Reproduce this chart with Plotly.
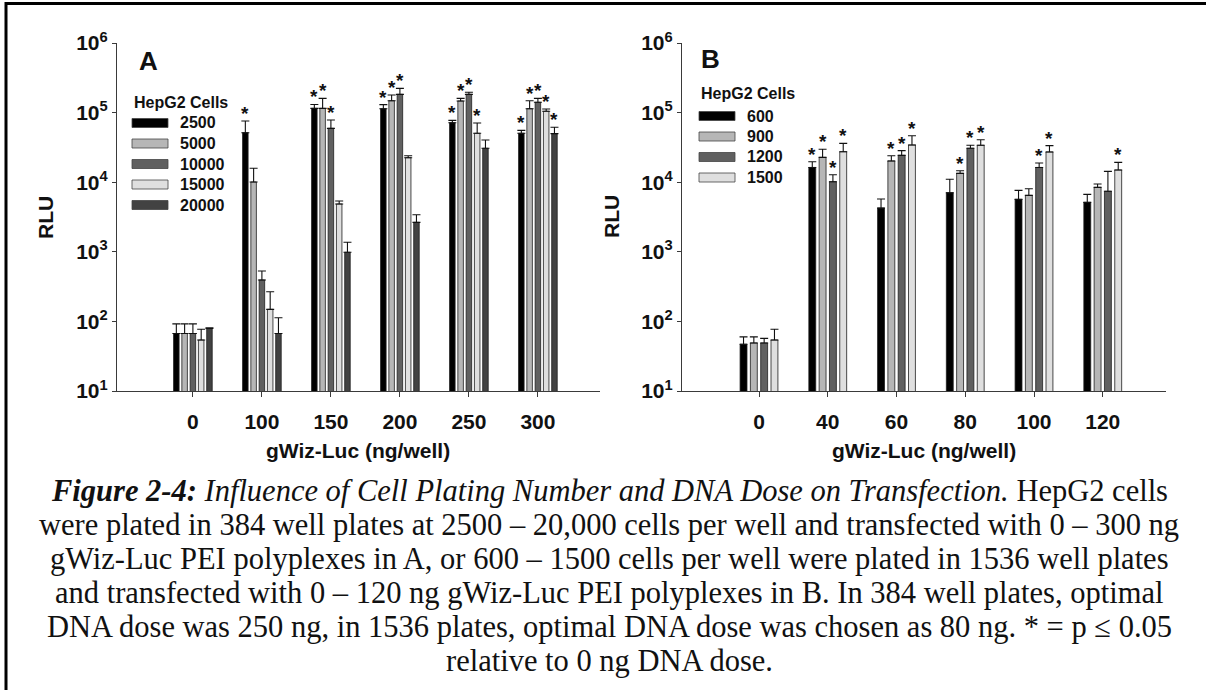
import math
import plotly.graph_objects as go

# ---------------- data ----------------
dose_A = ["0", "100", "150", "200", "250", "300"]
cells_A = ["2500", "5000", "10000", "15000", "20000"]
rlu_A = {
    "2500":  [67, 51400, 115000, 113700, 71600, 50400],
    "5000":  [67, 10070, 115000, 148000, 146800, 113700],
    "10000": [67, 394, 59400, 183000, 183000, 140500],
    "15000": [54, 149, 4860, 22500, 50400, 104500],
    "20000": [79, 67, 984, 2650, 30700, 49800],
}
sd_A = {
    "2500":  [25, 24300, 16000, 16300, 5800, 5200],
    "5000":  [25, 5780, 45000, 31000, 13200, 34300],
    "10000": [25, 136, 18900, 40000, 13000, 19500],
    "15000": [23, 118, 510, 1500, 20500, 8200],
    "20000": [2, 46, 386, 760, 9700, 11700],
}
sig_A = {
    "2500":  [0, 1, 1, 1, 1, 1],
    "5000":  [0, 0, 1, 1, 1, 1],
    "10000": [0, 0, 1, 1, 1, 1],
    "15000": [0, 0, 0, 0, 1, 1],
    "20000": [0, 0, 0, 0, 0, 1],
}

dose_B = ["0", "40", "60", "80", "100", "120"]
cells_B = ["600", "900", "1200", "1500"]
rlu_B = {
    "600":  [47, 16300, 4260, 7070, 5660, 5130],
    "900":  [49, 22700, 20200, 13400, 6460, 8420],
    "1200": [49, 10170, 24300, 30700, 16300, 7400],
    "1500": [54, 27400, 34200, 33900, 27200, 14960],
}
sd_B = {
    "600":  [13, 3400, 1480, 3930, 1980, 1560],
    "900":  [11, 7000, 3800, 1200, 1610, 1000],
    "1200": [8, 2630, 4100, 3200, 2600, 6900],
    "1500": [23, 8700, 12400, 6900, 6300, 4340],
}
sig_B = {
    "600":  [0, 1, 0, 0, 0, 0],
    "900":  [0, 1, 1, 1, 0, 0],
    "1200": [0, 1, 1, 1, 1, 0],
    "1500": [0, 1, 1, 1, 1, 1],
}

colors_A = ["#000000", "#b6b6b6", "#606060", "#dfdfdf", "#424242"]
colors_B = ["#000000", "#b6b6b6", "#606060", "#dfdfdf"]

y_ticks = [10, 100, 1000, 10000, 100000, 1000000]
y_ticktext = ["10<sup>1</sup>", "10<sup>2</sup>", "10<sup>3</sup>",
              "10<sup>4</sup>", "10<sup>5</sup>", "10<sup>6</sup>"]

caption_lines = [
    "<b><i>Figure 2-4:</i></b> <i>Influence of Cell Plating Number and DNA Dose on Transfection.</i> HepG2 cells",
    "were plated in 384 well plates at 2500 \u2013 20,000 cells per well and transfected with 0 \u2013 300 ng",
    "gWiz-Luc PEI polyplexes in A, or 600 \u2013 1500 cells per well were plated in 1536 well plates",
    "and transfected with 0 \u2013 120 ng gWiz-Luc PEI polyplexes in B. In 384 well plates, optimal",
    "DNA dose was 250 ng, in 1536 plates, optimal DNA dose was chosen as 80 ng. * = p \u2264 0.05",
    "relative to 0 ng DNA dose.",
]

# ---------------- layout geometry ----------------
W, H = 1206, 690
def px(x):
    return x / W
def py(y):
    return 1 - y / H

SANS = "Liberation Sans, Arial, sans-serif"
SERIF = "Liberation Serif, Times New Roman, serif"
AXC = "#3a3a3a"

domA = [px(117), px(600)]
domB = [px(682), px(1166)]
domY = [py(391), py(43)]
rangeA = [-1.1, 5.9]
rangeB = [-1.12, 5.92]
BARGAP = 0.4
BARGROUPGAP = 0.33

fig = go.Figure()

def add_panel(doses, cells, rlu, sd, sig, colors, xa, ya, dom, rng):
    n = len(cells)
    cat_px = (dom[1] - dom[0]) * W / (rng[1] - rng[0])
    pitch = cat_px * (1 - BARGAP) / n
    for i, c in enumerate(cells):
        fig.add_trace(go.Bar(
            x=doses, y=rlu[c], name=c, xaxis=xa, yaxis=ya,
            marker=dict(color=colors[i], line=dict(color="#1e1e1e", width=0.8)),
            error_y=dict(type="data", array=sd[c], arrayminus=[0] * len(doses),
                         symmetric=False, color="#111111", thickness=1.1, width=4),
            showlegend=False,
        ))
        for j, d in enumerate(doses):
            if sig[c][j]:
                top = rlu[c][j] + sd[c][j]
                fig.add_annotation(
                    x=j, y=math.log10(top), xref=xa, yref=ya,
                    text="*", showarrow=False, yanchor="bottom",
                    xshift=(i - (n - 1) / 2) * pitch, yshift=-5,
                    font=dict(family=SANS, size=19, color="#111111", weight="bold"),
                )

add_panel(dose_A, cells_A, rlu_A, sd_A, sig_A, colors_A, "x", "y", domA, rangeA)
add_panel(dose_B, cells_B, rlu_B, sd_B, sig_B, colors_B, "x2", "y2", domB, rangeB)

xcommon = dict(type="category", showline=True, linecolor=AXC, linewidth=1.2,
               ticks="outside", ticklen=5, tickcolor=AXC, tickwidth=1.2,
               showgrid=False, zeroline=False, ticklabelstandoff=7, automargin=False,
               tickfont=dict(family=SANS, size=21, color="#111111", weight="bold"))
ycommon = dict(type="log", range=[1, 6], tickvals=y_ticks, ticktext=y_ticktext,
               showline=True, linecolor=AXC, linewidth=1.2,
               ticks="outside", ticklen=4, tickcolor=AXC, tickwidth=1.2,
               showgrid=False, zeroline=False, automargin=False,
               tickfont=dict(family=SANS, size=21, color="#111111", weight="bold"))

fig.update_layout(
    width=W, height=H,
    margin=dict(l=0, r=0, t=0, b=0, pad=0, autoexpand=False),
    paper_bgcolor="white", plot_bgcolor="white",
    barmode="group", bargap=BARGAP, bargroupgap=BARGROUPGAP,
    showlegend=False,
    xaxis=dict(domain=domA, range=rangeA, anchor="y", **xcommon),
    yaxis=dict(domain=domY, anchor="x", **ycommon),
    xaxis2=dict(domain=domB, range=rangeB, anchor="y2", **xcommon),
    yaxis2=dict(domain=domY, anchor="x2", **ycommon),
)

def text_ann(x, y, text, size, family=SANS, bold=True, xanchor="center",
             yanchor="middle", angle=0):
    fig.add_annotation(
        x=px(x), y=py(y), xref="paper", yref="paper", text=text,
        showarrow=False, xanchor=xanchor, yanchor=yanchor, textangle=angle,
        font=dict(family=family, size=size, color="#111111",
                  weight="bold" if bold else "normal"),
    )

# axis titles
text_ann(358, 450, "gWiz-Luc (ng/well)", 21)
text_ann(924, 450, "gWiz-Luc (ng/well)", 21)
text_ann(45, 217, "RLU", 21, angle=-90)
text_ann(611, 217, "RLU", 21, angle=-90)
# panel letters
text_ann(137, 61, "A", 26, xanchor="left")
text_ann(699, 59, "B", 26, xanchor="left")

# legends (built from the series names and colours)
def legend(x0, title_y, first_y, cells, colors):
    text_ann(x0, title_y, "HepG2 Cells", 16, xanchor="left")
    for i, c in enumerate(cells):
        yc = first_y + i * 20.5
        fig.add_shape(type="rect", xref="paper", yref="paper",
                      x0=px(x0), x1=px(x0 + 36), y0=py(yc - 4.5), y1=py(yc + 4.5),
                      fillcolor=colors[i], line=dict(color="#444444", width=0.8))
        text_ann(x0 + 46, yc, c, 16, xanchor="left")

legend(132, 103, 123, cells_A, colors_A)
legend(699, 93, 116, cells_B, colors_B)

# caption
for k, line in enumerate(caption_lines):
    text_ann(609, 491 + k * 34, line, 30.5, family=SERIF, bold=False)

# frame lines (top and left)
fig.add_shape(type="line", xref="paper", yref="paper", x0=px(5), x1=1.0,
              y0=py(3.5), y1=py(3.5), line=dict(color="black", width=3))
fig.add_shape(type="line", xref="paper", yref="paper", x0=px(6), x1=px(6),
              y0=py(2), y1=0.0, line=dict(color="black", width=3))

fig.write_html("out.html")
